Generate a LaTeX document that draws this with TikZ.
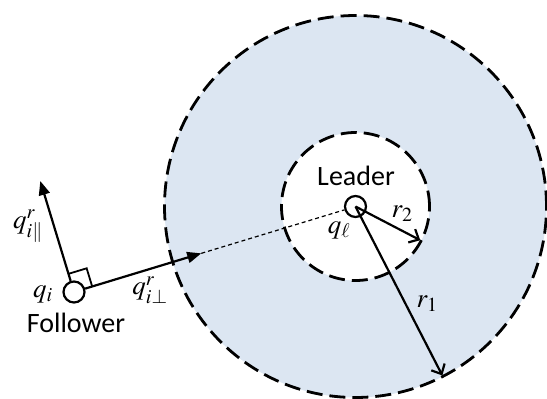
\documentclass[tikz,border=0pt]{standalone}
\usepackage{mathptmx}
\usepackage{fontspec}
\setmainfont{Carlito}
\usetikzlibrary{calc,arrows.meta}
\definecolor{zonefill}{RGB}{220,230,242}
\begin{document}
\begin{tikzpicture}[x=1pt,y=-1pt,
  zone/.style={line width=2.8pt, dash pattern=on 16pt off 7pt},
  vec/.style={line width=2.2pt, -{Triangle[length=14pt,width=11pt]}},
  rad/.style={line width=2.2pt, -{Straight Barb[length=8pt,width=15pt,line width=2.2pt]}},
  agent/.style={circle, draw, line width=2.2pt, minimum size=21pt, inner sep=0pt},
  lbl/.style={font=\fontsize{28}{32}\selectfont, inner sep=0pt},
  mlbl/.style={font=\fontsize{27}{31}\selectfont, inner sep=0pt}]
\useasboundingbox (0,0) rectangle (547,399);
\coordinate (L) at (355.5,206.5);
\coordinate (F) at (74,292);
% zones
\fill[zonefill] (L) circle[radius=191pt];
\fill[white] (L) circle[radius=74pt];
\draw[zone] (L) circle[radius=191pt];
\draw[zone] (L) circle[radius=74pt];
% agents
\node[agent] (leader) at (L) {};
\node[agent, fill=white] (follower) at (F) {};
% derived points
\coordinate (P) at ($(follower.center)!133pt!(leader.center)$);
\coordinate (Q) at ($(follower.center)!116pt!90:(leader.center)$);
\coordinate (A) at ($(follower.center)!19pt!(leader.center)$);
\coordinate (C) at ($(follower.center)!19pt!90:(leader.center)$);
\coordinate (B) at ($(A)+(C)-(follower.center)$);
\coordinate (T2) at ($(leader.center)+(-27.5:73pt)$);
\coordinate (T1) at ($(leader.center)+(-62.8:190pt)$);
% right-angle mark
\draw[line width=1.8pt] (C) -- (B) -- (A);
% vectors
\draw[line width=1.2pt, dash pattern=on 4pt off 3pt] (P) -- (leader);
\draw[vec] (follower) -- (P);
\draw[vec] (follower) -- (Q);
\draw[rad] (leader.center) -- (T2);
\draw[rad] (leader.center) -- (T1);
% labels
\node[mlbl] (qpar) at (28,226) {$q^{r}_{i\|}$};
\node[mlbl] (qi) at (43,294) {$q_i$};
\node[lbl] (fl) at (76,323) {Follower};
\node[mlbl] (qperp) at (150,290) {$q^{r}_{i\perp}$};
\node[lbl] (ld) at (356,176) {Leader};
\node[mlbl] (ql) at (339,230) {$q_\ell$};
\node[mlbl] (r2) at (402,214) {$r_2$};
\node[mlbl] (r1) at (427,304) {$r_1$};
\end{tikzpicture}
\end{document}
